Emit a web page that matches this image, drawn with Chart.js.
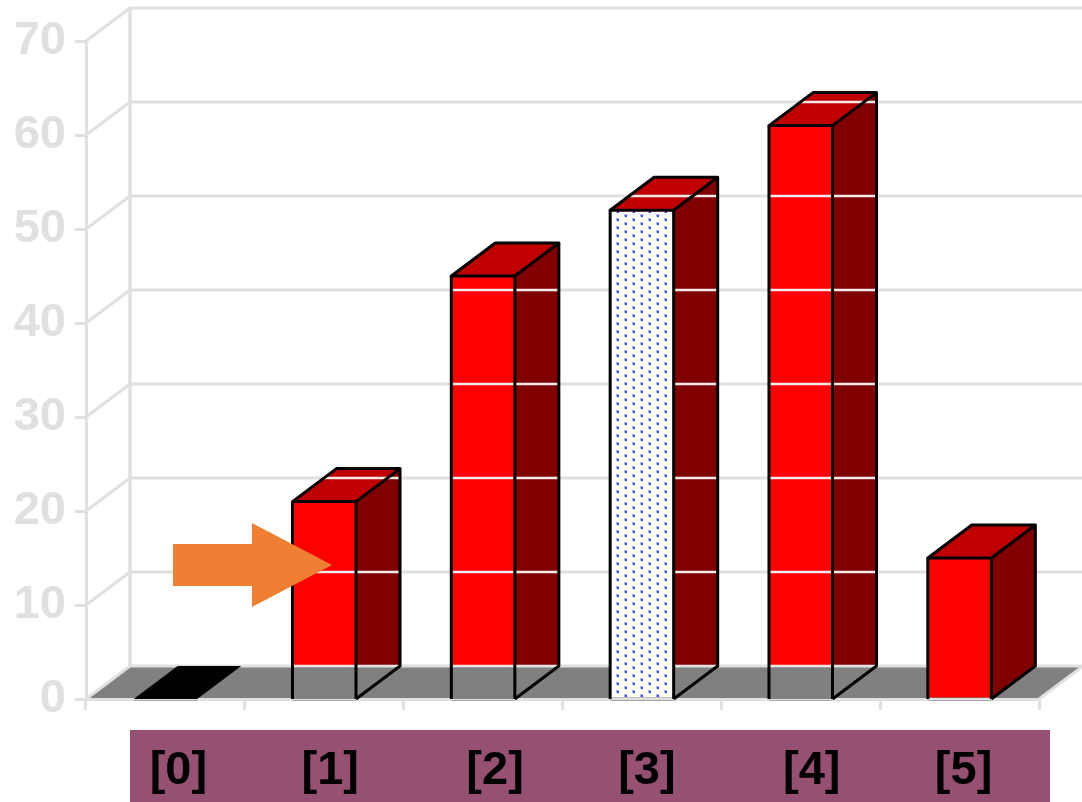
<!DOCTYPE html>
<html>
<head>
<meta charset="utf-8">
<title>Bars</title>
<script src="https://cdn.jsdelivr.net/npm/chart.js@4/dist/chart.umd.min.js"></script>
<style>
    html, body { margin: 0; padding: 0; background: #fff; }
    canvas { display: block; }
</style>
</head>
<body>
<canvas id="barChart" width="1082" height="802"></canvas>
<script>
const categories = ['[0]', '[1]', '[2]', '[3]', '[4]', '[5]'];
const values = [0, 21, 45, 52, 61, 15];
const yTicks = [0, 10, 20, 30, 40, 50, 60, 70];

const depthX = 44;
const depthY = 33;
const labelShift = [13, 6, 12, 5, 11, 4];

const wallColor = '#e0e0e0';
const floorColor = '#808080';
const frontColor = '#ff0000';
const sideColor = '#800000';
const topColor = '#c00000';
const stripeColor = '#955072';
const arrowColor = '#ee7f33';
const overlayLine = '#f3e8e8';
const edgeWidth = 3;

// small repeating tile for the highlighted bar
const dotPattern = function (ctx) {
    const tile = document.createElement('canvas');
    tile.width = 16;
    tile.height = 8;
    const t = tile.getContext('2d');
    t.fillStyle = '#fff';
    t.fillRect(0, 0, 16, 8);
    [[8, 2], [0, 6], [0, -2]].forEach(function (d) {
        t.fillStyle = '#b4b4ff';
        t.fillRect(d[0], d[1], 3, 3);
        t.fillStyle = '#3c3cff';
        t.fillRect(d[0] + 1, d[1] + 1, 2, 2);
    });
    return ctx.createPattern(tile, 'repeat');
};

const polygon = function (ctx, pts) {
    ctx.beginPath();
    pts.forEach(function (p, i) {
        if (i === 0) {
            ctx.moveTo(p[0], p[1]);
        } else {
            ctx.lineTo(p[0], p[1]);
        }
    });
    ctx.closePath();
};

// walls and floor behind the bars
const drawRoom = function (chart) {
    const ctx = chart.ctx;
    const x = chart.scales.x;
    const y = chart.scales.y;
    const base = y.getPixelForValue(0);

    ctx.save();
    ctx.fillStyle = floorColor;
    polygon(ctx, [
        [x.left, base], [x.right, base],
        [x.right + depthX, base - depthY], [x.left + depthX, base - depthY],
    ]);
    ctx.fill();

    ctx.strokeStyle = wallColor;
    ctx.lineWidth = 3.5;
    ctx.beginPath();
    ctx.moveTo(x.left + depthX, y.getPixelForValue(70) - depthY);
    ctx.lineTo(x.left + depthX, base - depthY);
    ctx.stroke();

    ctx.lineWidth = 3;
    yTicks.forEach(function (v) {
        const py = y.getPixelForValue(v);
        ctx.beginPath();
        ctx.moveTo(x.left, py);
        ctx.lineTo(x.left + depthX, py - depthY);
        ctx.lineTo(chart.width + 2, py - depthY);
        ctx.stroke();
    });

    ctx.beginPath();
    ctx.moveTo(x.right, base);
    ctx.lineTo(x.right + depthX, base - depthY);
    ctx.stroke();
    ctx.restore();
};

const strokeBackRules = function (chart, from, to) {
    const ctx = chart.ctx;
    const y = chart.scales.y;
    ctx.strokeStyle = overlayLine;
    ctx.lineWidth = 2.5;
    yTicks.forEach(function (v) {
        const py = y.getPixelForValue(v) - depthY;
        ctx.beginPath();
        ctx.moveTo(from, py);
        ctx.lineTo(to, py);
        ctx.stroke();
    });
};

// side and top faces, worked out from each bar the library has laid out
const drawBarFaces = function (chart) {
    const ctx = chart.ctx;
    const y = chart.scales.y;
    const base = y.getPixelForValue(0);
    const backBase = base - depthY;
    const bars = chart.getDatasetMeta(0).data;

    bars.forEach(function (bar, i) {
        const half = bar.width / 2;
        const left = bar.x - half;
        const right = bar.x + half;
        const top = bar.y;
        const standsOnFloor = i === 5;
        const frontThroughFloor = i === 1 || i === 2 || i === 4;
        const topFace = [
            [left, top], [right, top],
            [right + depthX, top - depthY], [left + depthX, top - depthY],
        ];
        const sideFace = standsOnFloor
            ? [[right, top], [right + depthX, top - depthY], [right + depthX, backBase], [right, base]]
            : [[right, top], [right + depthX, top - depthY], [right + depthX, backBase], [right, backBase]];

        ctx.save();
        if (frontThroughFloor) {
            ctx.fillStyle = floorColor;
            ctx.fillRect(left, backBase, bar.width, depthY);
        }
        if (values[i] > 0) {
            ctx.fillStyle = sideColor;
            polygon(ctx, sideFace);
            ctx.fill();
        }
        ctx.fillStyle = values[i] > 0 ? topColor : '#000';
        polygon(ctx, topFace);
        ctx.fill();

        // back wall rules show through most of the bars
        if (i >= 1 && i <= 4) {
            ctx.save();
            polygon(ctx, topFace);
            ctx.clip();
            strokeBackRules(chart, left, right + depthX);
            ctx.restore();

            ctx.save();
            polygon(ctx, sideFace);
            ctx.clip();
            strokeBackRules(chart, left, right + depthX);
            ctx.restore();

            if (frontThroughFloor) {
                ctx.save();
                ctx.beginPath();
                ctx.rect(left, top, bar.width, base - top);
                ctx.clip();
                strokeBackRules(chart, left, right);
                ctx.restore();
            }
        }

        // edges, a zero bar is only its flat black top
        if (values[i] > 0) {
            ctx.strokeStyle = '#000';
            ctx.lineWidth = edgeWidth;
            ctx.lineJoin = 'round';
            polygon(ctx, topFace);
            ctx.stroke();
            ctx.beginPath();
            ctx.moveTo(left, base);
            ctx.lineTo(left, top);
            ctx.moveTo(right, base);
            ctx.lineTo(right, top);
            ctx.moveTo(right + depthX, top - depthY);
            ctx.lineTo(right + depthX, backBase);
            ctx.lineTo(right, base);
            ctx.stroke();
        }

        ctx.strokeStyle = '#a8a8a8';
        ctx.lineWidth = 1;
        ctx.beginPath();
        ctx.moveTo(left, base + 1.5);
        ctx.lineTo(right, base + 1.5);
        ctx.stroke();
        ctx.restore();
    });
};

const drawStripe = function (chart) {
    const ctx = chart.ctx;
    const x = chart.scales.x;
    ctx.save();
    ctx.fillStyle = stripeColor;
    ctx.fillRect(130, 730, 920, 72);
    ctx.fillStyle = '#000';
    ctx.font = 'bold 47px "Liberation Sans"';
    ctx.textAlign = 'center';
    ctx.textBaseline = 'alphabetic';
    categories.forEach(function (label, i) {
        ctx.fillText(label, x.getPixelForValue(i) + labelShift[i], 784);
    });
    ctx.restore();
};

const drawArrow = function (chart) {
    const ctx = chart.ctx;
    ctx.save();
    ctx.fillStyle = arrowColor;
    polygon(ctx, [
        [173, 544], [252, 544], [252, 523], [332, 565],
        [252, 607], [252, 586], [173, 586],
    ]);
    ctx.fill();
    ctx.restore();
};

const roomPlugin = {
    id: 'room',
    beforeDraw: drawRoom,
    afterDatasetsDraw: drawBarFaces,
    afterDraw: function (chart) {
        drawStripe(chart);
        drawArrow(chart);
    },
};

const ctx = document.getElementById('barChart').getContext('2d');
const pattern = dotPattern(ctx);

new Chart(ctx, {
    type: 'bar',
    data: {
        labels: categories,
        datasets: [{
            data: values,
            backgroundColor: values.map(function (v, i) {
                return i === 3 ? pattern : frontColor;
            }),
            borderWidth: 0,
            barPercentage: 0.4,
            categoryPercentage: 1,
        }],
    },
    plugins: [roomPlugin],
    options: {
        responsive: false,
        animation: false,
        layout: {
            padding: { top: 41, right: 43, bottom: 0, left: 0 },
        },
        plugins: {
            legend: { display: false },
            title: { display: false },
            tooltip: { enabled: false },
        },
        scales: {
            x: {
                afterFit: function (scale) {
                    scale.height = 103;
                },
                grid: {
                    drawOnChartArea: false,
                    color: wallColor,
                    lineWidth: 3,
                    tickLength: 11,
                },
                border: { color: wallColor, width: 3 },
                ticks: { display: false },
            },
            y: {
                min: 0,
                max: 70,
                afterFit: function (scale) {
                    scale.width = 86;
                },
                afterBuildTicks: function (scale) {
                    scale.ticks = yTicks.map(function (v) {
                        return { value: v };
                    });
                },
                grid: {
                    drawOnChartArea: false,
                    color: wallColor,
                    lineWidth: 3,
                    tickLength: 11,
                },
                border: { color: wallColor, width: 3 },
                ticks: {
                    color: wallColor,
                    padding: 9,
                    font: { family: '"Liberation Sans"', size: 47, weight: 'bold' },
                },
            },
        },
    },
});
</script>
</body>
</html>
